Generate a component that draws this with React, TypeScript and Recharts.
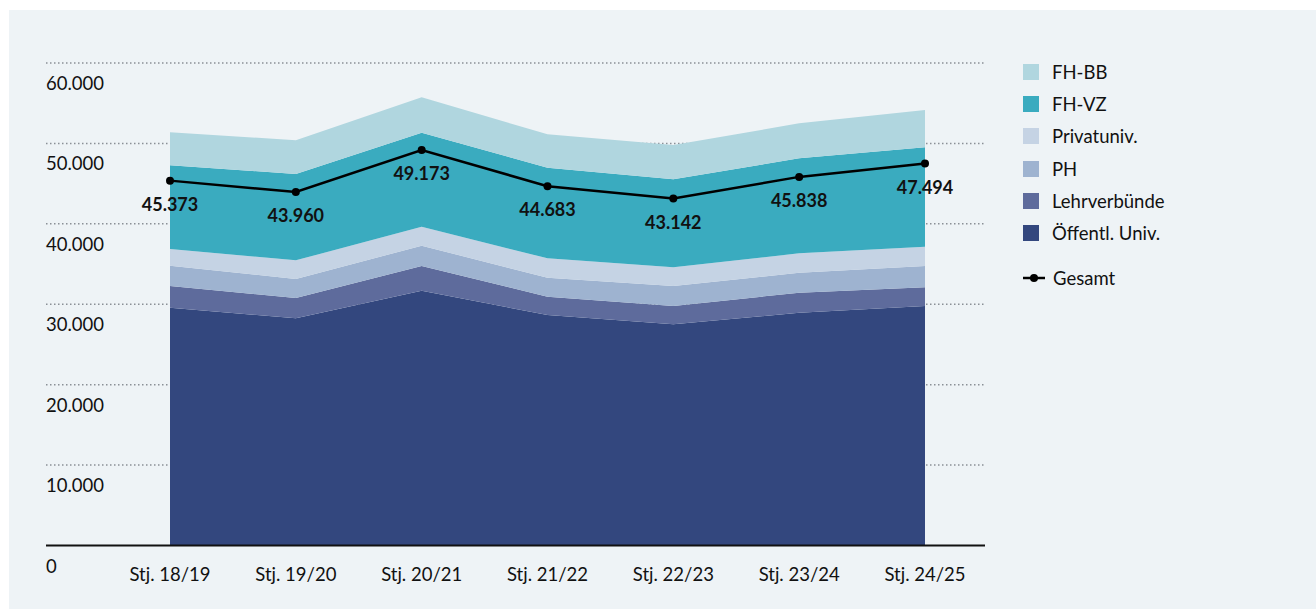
import React from "react";
import {
  ComposedChart,
  Area,
  Line,
  XAxis,
  YAxis,
  CartesianGrid,
  LabelList,
} from "recharts";

// Studierende nach Sektor, Studienjahre 18/19 – 24/25 (Werte in Personen)
const years = ["Stj. 18/19", "Stj. 19/20", "Stj. 20/21", "Stj. 21/22", "Stj. 22/23", "Stj. 23/24", "Stj. 24/25"];

const oeffUniv    = [29570, 28250, 31680, 28660, 27500, 28950, 29780];
const lehrverb    = [2700, 2530, 3070, 2280, 2280, 2490, 2320];
const ph          = [2530, 2360, 2530, 2360, 2490, 2480, 2650];
const privatuniv  = [2070, 2320, 2360, 2410, 2320, 2410, 2410];
const fhVz        = [10430, 10740, 11690, 11270, 10940, 11820, 12350];
const fhBb        = [4100, 4200, 4400, 4150, 4270, 4350, 4640];
const gesamt      = [45373, 43960, 49173, 44683, 43142, 45838, 47494];

const yTicks = [0, 10000, 20000, 30000, 40000, 50000, 60000];

const FONT = "Lato, 'Noto Sans', sans-serif";

const series = [
  { key: "oeff", name: "Öffentl. Univ.", color: "#33477e" },
  { key: "lehrv", name: "Lehrverbünde", color: "#5e6b9c" },
  { key: "ph", name: "PH", color: "#9eb3d0" },
  { key: "priv", name: "Privatuniv.", color: "#c5d3e4" },
  { key: "fhvz", name: "FH-VZ", color: "#3aabbf" },
  { key: "fhbb", name: "FH-BB", color: "#b0d6df" },
];

const data = years.map((y, i) => ({
  year: y,
  oeff: oeffUniv[i],
  lehrv: lehrverb[i],
  ph: ph[i],
  priv: privatuniv[i],
  fhvz: fhVz[i],
  fhbb: fhBb[i],
  gesamt: gesamt[i],
}));

const fmt = (v: number) => v.toLocaleString("de-DE");

function YTick({ x, y, payload }: any) {
  return (
    <text x={x} y={y + 20} dominantBaseline="central" textAnchor="start" fontSize={18.5} fontFamily={FONT} fill="#111">
      {fmt(payload.value)}
    </text>
  );
}

function TotalLabel({ x, y, value }: any) {
  return (
    <text x={x} y={y + 23} dominantBaseline="central" textAnchor="middle" fontSize={18} fontWeight={700} fontFamily={FONT} fill="#111">
      {fmt(value)}
    </text>
  );
}

function LegendBox() {
  const rows = [...series].reverse();
  return (
    <div style={{ position: "absolute", left: 1014, top: 45.5, fontFamily: FONT, fontSize: 18.5, color: "#111" }}>
      {rows.map((s) => (
        <div key={s.key} style={{ display: "flex", alignItems: "center", height: 32.3 }}>
          <span style={{ display: "inline-block", width: 16, height: 16, background: s.color, marginRight: 13 }} />
          {s.name}
        </div>
      ))}
      <div style={{ display: "flex", alignItems: "center", height: 32.3, marginTop: 13 }}>
        <svg width={22} height={10} style={{ marginRight: 8 }}>
          <line x1={0} y1={5} x2={22} y2={5} stroke="#000" strokeWidth={2.5} />
          <circle cx={11} cy={5} r={4} fill="#000" />
        </svg>
        Gesamt
      </div>
    </div>
  );
}

export default function App() {
  return (
    <div style={{ position: "absolute", left: 9, top: 10, width: 1307, height: 599, background: "#eef3f6" }}>
      <ComposedChart
        width={1307}
        height={599}
        data={data}
        margin={{ top: 53, right: 331, left: 0, bottom: 23.5 }}
      >
        <CartesianGrid
          horizontal
          vertical={false}
          stroke="#8a9096"
          strokeWidth={1.5}
          strokeDasharray="1.5 2.5"
          horizontalValues={yTicks.slice(1)}
        />
        <XAxis
          dataKey="year"
          scale="point"
          padding={{ left: 124, right: 60 }}
          height={40}
          tickSize={0}
          tickMargin={22}
          axisLine={{ stroke: "#111", strokeWidth: 2 }}
          tickLine={false}
          tick={{ fontSize: 18.5, fontFamily: FONT, fill: "#111" }}
        />
        <YAxis
          domain={[0, 60000]}
          ticks={yTicks}
          width={37}
          tickSize={0}
          tickMargin={0}
          axisLine={false}
          tickLine={false}
          tick={<YTick />}
        />
        {series.map((s) => (
          <Area
            key={s.key}
            type="linear"
            dataKey={s.key}
            name={s.name}
            stackId="a"
            stroke="none"
            fill={s.color}
            fillOpacity={1}
            isAnimationActive={false}
          />
        ))}
        <Line
          type="linear"
          dataKey="gesamt"
          name="Gesamt"
          stroke="#000"
          strokeWidth={2.5}
          dot={{ r: 4, fill: "#000", stroke: "none" }}
          isAnimationActive={false}
        >
          <LabelList dataKey="gesamt" content={<TotalLabel />} />
        </Line>
      </ComposedChart>
      <LegendBox />
    </div>
  );
}
